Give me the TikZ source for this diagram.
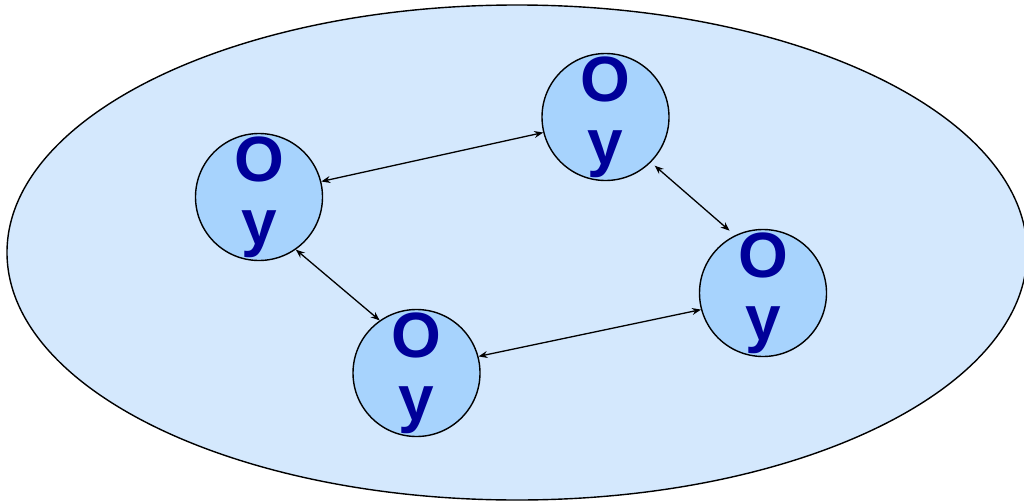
\documentclass[tikz,border=0pt]{standalone}
\usepackage{fontspec}
\setmainfont{Liberation Sans}
\usetikzlibrary{arrows.meta,shapes.geometric}
\definecolor{outerfill}{RGB}{212,232,253}
\definecolor{ballfill}{RGB}{167,211,253}
\definecolor{letter}{RGB}{0,0,153}
\tikzset{
  ball/.style={circle, draw=black, line width=1.4pt, fill=ballfill, minimum size=127pt, inner sep=0pt},
  lbl/.style={align=center, inner sep=0pt, text=letter, font=\fontsize{64}{63}\selectfont\bfseries},
  link/.style={line width=1.3pt, {Stealth[length=9pt,width=7pt,inset=3pt]}-{Stealth[length=9pt,width=7pt,inset=3pt]}}
}
\begin{document}
\begin{tikzpicture}[x=1pt,y=-1pt]
\useasboundingbox (0,0) rectangle (1024,503);
\clip (0,0) rectangle (1024,503);
\node[ellipse, draw=black, line width=1.4pt, fill=outerfill, minimum width=1020pt, minimum height=495pt, inner sep=0pt] (world) at (517,252.5) {};
\node[ball] (A) at (259,197) {};
\node[ball] (B) at (605.5,117) {};
\node[ball] (C) at (763,293) {};
\node[ball] (D) at (416.5,373) {};
\node[lbl] (At) at (A) {O\\y};
\node[lbl] (Bt) at (B) {O\\y};
\node[lbl] (Ct) at (C) {O\\y};
\node[lbl] (Dt) at (D) {O\\y};
\draw[link] (A.14) -- (B.194);
\draw[link] (A.-55) -- (D.125);
\draw[link, shorten <=5pt, shorten >=7pt] (B.-45) -- (C.116);
\draw[link] (D.15) -- (C.195);
\end{tikzpicture}
\end{document}
